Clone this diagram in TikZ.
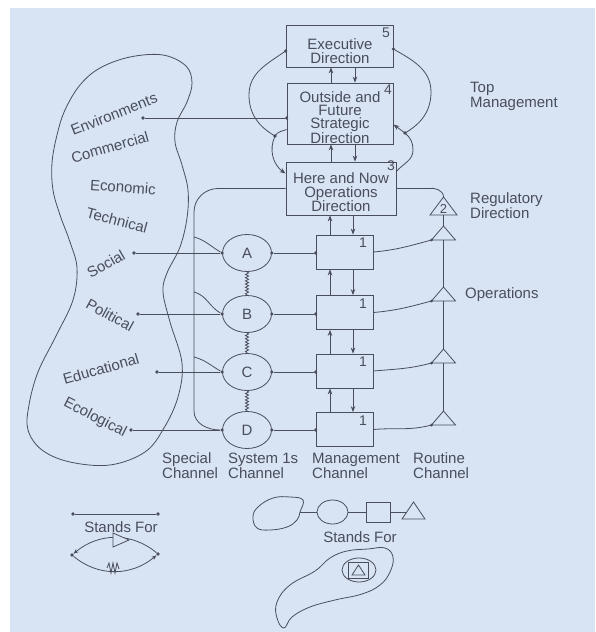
\documentclass[tikz,border=0pt]{standalone}
\usepackage{fontspec}
\setmainfont{Liberation Sans}
\usetikzlibrary{shapes.geometric,arrows.meta,decorations.pathmorphing}
\definecolor{paper}{RGB}{216,227,243}
\definecolor{ink}{RGB}{74,78,92}

% upward triangle: name, centre x, apex y, base y, half width
\newcommand{\vsmtri}[5]{%
  \coordinate (#1-top) at (#2,#3);
  \coordinate (#1-bot) at (#2,#4);
  \coordinate (#1-bl) at ({#2-#5},#4);
  \coordinate (#1-br) at ({#2+#5},#4);
  \draw[line] (#1-top) -- (#1-bl) -- (#1-br) -- cycle;}

\begin{document}
\begin{tikzpicture}[x=1pt,y=1pt,
  line/.style={draw=ink, line width=0.8pt},
  dot/.style={circle, fill=ink, inner sep=0pt, minimum size=3.6pt},
  unit/.style={draw=ink, line width=0.8pt, rectangle, inner sep=0pt},
  chan/.style={ellipse, draw=ink, line width=0.8pt, inner sep=0pt,
    minimum width=49pt, minimum height=37pt, text=ink,
    font=\fontsize{15}{15}\selectfont},
  lbl/.style={text=ink, font=\fontsize{15}{14}\selectfont, inner sep=0pt},
  clbl/.style={lbl, align=left, anchor=west, font=\fontsize{15}{15}\selectfont},
  num/.style={text=ink, font=\fontsize{14}{14}\selectfont, inner sep=0pt},
  tip/.style={-{Stealth[length=6pt,width=4.5pt]}},
  arr/.style={line, tip},
  wiggle/.style={line, decorate, decoration={snake, amplitude=1.6pt, segment length=3.2pt}},
]
\useasboundingbox (0,0) rectangle (595,-632);
\fill[white] (0,0) rectangle (595,-632);
\fill[paper] (10,-8) rectangle (595,-632);

% ---------- environment blob ----------
\draw[line] plot[smooth cycle, tension=0.6] coordinates {
  (130,-57) (163,-55) (186,-66) (192,-83) (187,-102) (177,-122) (175,-142)
  (182,-165) (188,-190) (187,-218) (180,-247) (167,-273) (163,-292) (170,-322)
  (182,-363) (178,-397) (164,-428) (145,-452) (110,-465) (70,-462) (42,-450)
  (28,-430) (29,-405) (38,-372) (56,-336) (73,-300) (77,-268) (70,-242)
  (60,-215) (53,-190) (52,-163) (57,-135) (65,-110) (80,-85) (100,-68)};

\node[lbl, rotate=21.6] (lEnv) at (114,-114) {Environments};
\node[lbl, rotate=16] (lCom) at (110,-147) {Commercial};
\node[lbl, rotate=-4] (lEcn) at (123,-187) {Economic};
\node[lbl, rotate=-15] (lTec) at (117,-220) {Technical};
\node[lbl, rotate=30] (lSoc) at (106,-264) {Social};
\node[lbl, rotate=-29] (lPol) at (110,-315) {Political};
\node[lbl, rotate=16] (lEdu) at (101,-369) {Educational};
\node[lbl, rotate=-27] (lEco) at (95,-418) {Ecological};

\node[dot] (dEnv) at (143,-118) {};
\node[dot] (dSoc) at (134,-253) {};
\node[dot] (dPol) at (138,-314) {};
\node[dot] (dEdu) at (157,-372) {};
\node[dot] (dEco) at (131,-430) {};

% ---------- top management boxes ----------
\node[unit, minimum width=107pt, minimum height=42pt] (b5) at (339.5,-46) {};
\node[lbl, align=center] (t5) at (340,-51) {Executive\\Direction};
\node[num] (n5) at (386,-33) {5};
\node[unit, minimum width=106pt, minimum height=61pt] (b4) at (340,-113.5) {};
\node[lbl, align=center, font=\fontsize{15}{13.2}\selectfont] (t4) at (340,-117.5) {Outside and\\Future\\Strategic\\Direction};
\node[num] (n4) at (388,-90) {4};
\node[unit, minimum width=110pt, minimum height=53pt] (b3) at (341,-188.5) {};
\node[lbl, align=center] (t3) at (341,-192.5) {Here and Now\\Operations\\Direction};
\node[num] (n3) at (391,-166) {3};

% ---------- management units ----------
\foreach \n/\y in {1/-252, 2/-312.5, 3/-371, 4/-429.5}{
  \node[unit, minimum width=57pt, minimum height=34pt] (m\n) at (344.5,\y) {};
  \node[num] (mn\n) at (363,\y+9) {1};
}

% ---------- system 1s ----------
\node[chan] (A) at (247,-253) {A};
\node[chan] (B) at (247,-314) {B};
\node[chan] (C) at (247,-372) {C};
\node[chan] (D) at (247,-430) {D};
\foreach \s/\m in {A/1, B/2, C/3, D/4}{
  \node[dot] (\s w) at (\s.west) {};
  \node[dot] (\s e) at (\s.east) {};
  \node[dot] (\s m) at (m\m.west |- \s) {};
  \draw[line] (\s e) -- (\s m);
}
\draw[wiggle] (A.south) -- (B.north);
\draw[wiggle] (B.south) -- (C.north);
\draw[wiggle] (C.south) -- (D.north);

% environment links
\node[dot] (b4env) at (b4.west |- dEnv) {};
\draw[line] (dEnv) -- (b4env);
\draw[line] (dSoc) -- (Aw);
\draw[line] (dPol) -- (Bw);
\draw[line] (dEdu) -- (Cw);
\draw[line] (dEco) -- (Dw);

% ---------- special channel ----------
\coordinate (sc1) at (218,-188.5);
\coordinate (sc2) at (194,-212);
\coordinate (sc3) at (194,-411);
\draw[line] (b3.west) -- (sc1) to[out=180,in=90] (sc2) -- (sc3) to[out=-90,in=180] (Dw);
\coordinate (sA) at (194,-237);
\coordinate (sB) at (194,-292);
\coordinate (sC) at (194,-357);
\draw[line] (sA) to[out=-15,in=150] (Aw);
\draw[line] (sB) to[out=-15,in=150] (Bw);
\draw[line] (sC) to[out=-15,in=150] (Cw);

% ---------- command channel arrows ----------
\coordinate (ux) at (331,0);
\coordinate (dx) at (355,0);
\coordinate (uy) at (330,0);
\coordinate (dy) at (353,0);
\draw[arr] (b4.north -| ux) -- (b5.south -| ux);
\draw[arr] (b5.south -| dx) -- (b4.north -| dx);
\draw[arr] (b3.north -| ux) -- (b4.south -| ux);
\draw[arr] (b4.south -| dx) -- (b3.north -| dx);
\draw[arr] (m1.north -| uy) -- (b3.south -| uy);
\draw[arr] (b3.south -| dy) -- (m1.north -| dy);
\foreach \lo/\hi in {2/1, 3/2, 4/3}{
  \draw[arr] (m\lo.north -| uy) -- (m\hi.south -| uy);
  \draw[arr] (m\hi.south -| dy) -- (m\lo.north -| dy);
}

% ---------- top-management loops ----------
\node[dot] (d5l) at ([yshift=-5]b5.west) {};
\node[dot] (d5r) at ([yshift=-3]b5.east) {};
\node[dot] (jl) at (275,-136) {};
\node[dot] (jr) at (405,-133) {};
\coordinate (b4l) at ([yshift=-16]b4.west);
\coordinate (b4r) at ([yshift=-11]b4.east);
\coordinate (b3l) at ([yshift=15]b3.west);
\coordinate (b3r) at ([yshift=17]b3.east);
\coordinate (lw) at (249,-95);
\coordinate (rw) at (431,-92);
\coordinate (rl) at (413,-150);
\draw[line] (d5l.center) to[out=215,in=90] (lw) to[out=-90,in=150] (jl.center);
\draw[arr] (b4l) to[out=200,in=60] (jl.center) to[out=245,in=145] (b3l);
\draw[line] (d5r.center) to[out=-30,in=90] (rw) to[out=-90,in=30] (jr.center);
\draw[arr] (b3r) to[out=50,in=-90] (rl) to[out=90,in=-40] (jr.center) -- (b4r);

% ---------- routine channel ----------
\vsmtri{R0}{443.5}{-197}{-215}{13.5}
\vsmtri{R1}{443.5}{-226}{-240}{12}
\vsmtri{R2}{443.5}{-287}{-301}{12}
\vsmtri{R3}{443.5}{-349}{-363}{12}
\vsmtri{R4}{443.5}{-411}{-425}{12}
\node[num, font=\fontsize{13}{13}\selectfont] (n2) at (443.5,-208.5) {2};
\draw[line] (R0-bot) -- (R1-top);
\draw[line] (R1-bot) -- (R2-top);
\draw[line] (R2-bot) -- (R3-top);
\draw[line] (R3-bot) -- (R4-top);
\coordinate (rg) at (428,-188.5);
\draw[line] (b3.east) -- (rg) to[out=10,in=90] (R0-top);
\foreach \n in {1,2,3,4}{
  \node[dot, minimum size=3pt] (rt\n) at (R\n-bl) {};
  \draw[line] (m\n.east) to[out=5,in=195] (rt\n.center);
}

% ---------- labels ----------
\node[clbl] (cS) at (162,-465.5) {Special\\Channel};
\node[clbl] (cY) at (228,-465.5) {System 1s\\Channel};
\node[clbl] (cM) at (312,-465.5) {Management\\Channel};
\node[clbl] (cR) at (413,-465.5) {Routine\\Channel};
\node[clbl] (tm) at (470,-96) {Top\\Management};
\node[clbl] (rd) at (470,-205.5) {Regulatory\\Direction};
\node[lbl, anchor=west] (op) at (465,-295) {Operations};

% ---------- key: links ----------
\node[dot] (k1) at (73,-514) {};
\node[dot] (k2) at (158,-514) {};
\draw[line] (k1) -- (k2);
\node[lbl] (kt1) at (121,-527) {Stands For};
\node[dot] (k3) at (72,-555) {};
\node[dot] (k4) at (158,-554) {};
\draw[line, -{Stealth[length=5pt,width=4pt]}] (k4) to[out=140,in=40] (k3);
\draw[line, -{Stealth[length=5pt,width=4pt]}] (k3) to[out=-40,in=-140] (k4);
\draw[line, fill=paper] (113,-533) -- (129,-540) -- (113,-547) -- cycle;
\draw[line] (107,-568) -- (109,-563) -- (111,-573) -- (113,-563) -- (115,-573) -- (117,-563) -- (119,-569);

% ---------- key: recursion ----------
\draw[line] plot[smooth cycle, tension=0.7] coordinates {
  (258,-507) (273,-498) (290,-497) (303,-500) (300,-512) (297,-520)
  (287,-527) (270,-530) (257,-528) (253,-517)};
\coordinate (kb) at (300,-512);
\node[ellipse, draw=ink, line width=0.8pt, inner sep=0pt, minimum width=31pt, minimum height=24pt] (kc) at (332.5,-512) {};
\node[unit, minimum width=24pt, minimum height=20pt] (ks) at (378,-512) {};
\vsmtri{KT}{413.5}{-502}{-519}{11.5}
\coordinate (kts) at (406.7,-512);
\draw[line] (kb) -- (kc.west);
\draw[line] (kc.east) -- (ks.west);
\draw[line] (ks.east) -- (kts);
\node[lbl] (kt2) at (360,-537) {Stands For};

\draw[line] plot[smooth cycle, tension=0.7] coordinates {
  (347,-551) (368,-549) (385,-548) (393,-557) (390,-572) (380,-585)
  (362,-594) (335,-600) (310,-607) (292,-617) (284,-628) (277,-618)
  (277,-602) (290,-585) (315,-571) (330,-558)};
\node[ellipse, draw=ink, line width=0.8pt, inner sep=0pt, minimum width=34pt, minimum height=24pt] (kc2) at (359,-570) {};
\node[unit, minimum width=20pt, minimum height=16pt] (ks2) at (358.5,-570) {};
\vsmtri{KT2}{358.5}{-565}{-575}{6.5}
\end{tikzpicture}
\end{document}
